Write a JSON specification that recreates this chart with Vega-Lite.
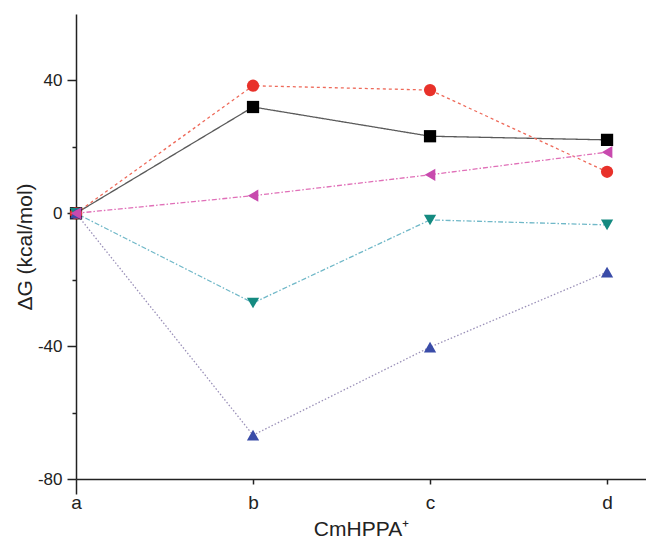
{
  "$schema": "https://vega.github.io/schema/vega-lite/v6.json",
  "autosize": {"type": "none"},
  "width": 570,
  "height": 465,
  "padding": {"left": 76, "top": 14, "right": 0, "bottom": 64},
  "background": "white",
  "config": {
    "view": {"stroke": null},
    "axis": {"labelFont": "Liberation Sans", "titleFont": "Liberation Sans", "titleFontWeight": "normal", "domainColor": "#222", "tickColor": "#222", "labelColor": "#222", "titleColor": "#222", "domainWidth": 1.5, "tickWidth": 1.5, "grid": false}
  },
  "data": {
    "values": [
      {"series": "black", "step": 0, "dG": 0},
      {"series": "black", "step": 1, "dG": 32.0},
      {"series": "black", "step": 2, "dG": 23.2},
      {"series": "black", "step": 3, "dG": 22.1},
      {"series": "red", "step": 0, "dG": 0},
      {"series": "red", "step": 1, "dG": 38.4},
      {"series": "red", "step": 2, "dG": 37.1},
      {"series": "red", "step": 3, "dG": 12.5},
      {"series": "teal", "step": 0, "dG": 0},
      {"series": "teal", "step": 1, "dG": -27.0},
      {"series": "teal", "step": 2, "dG": -2.0},
      {"series": "teal", "step": 3, "dG": -3.5},
      {"series": "blue", "step": 0, "dG": 0},
      {"series": "blue", "step": 1, "dG": -66.8},
      {"series": "blue", "step": 2, "dG": -40.3},
      {"series": "blue", "step": 3, "dG": -17.7},
      {"series": "magenta", "step": 0, "dG": 0},
      {"series": "magenta", "step": 1, "dG": 5.3},
      {"series": "magenta", "step": 2, "dG": 11.6},
      {"series": "magenta", "step": 3, "dG": 18.4}
    ]
  },
  "encoding": {
    "x": {
      "field": "step", "type": "quantitative",
      "scale": {"domain": [0, 3.22], "nice": false, "zero": false},
      "axis": {
        "values": [0, 1, 2, 3],
        "labelExpr": "['a','b','c','d'][datum.value]",
        "title": "CmHPPA⁺",
        "labelFontSize": 19, "titleFontSize": 21,
        "tickSize": {"condition": {"test": "datum.value === 0", "value": 15}, "value": 5},
        "labelPadding": {"condition": {"test": "datum.value === 0", "value": -1}, "value": 9},
        "titlePadding": 6, "labelFlush": false
      }
    },
    "y": {
      "field": "dG", "type": "quantitative",
      "scale": {"domain": [-80, 60], "nice": false},
      "axis": {
        "values": [-80, -60, -40, -20, 0, 20, 40],
        "labelExpr": "datum.value % 40 === 0 ? '' + datum.value : ''",
        "tickSize": {"condition": {"test": "datum.value % 40 === 0", "value": 9}, "value": 4},
        "title": "ΔG (kcal/mol)",
        "labelFontSize": 17, "titleFontSize": 21,
        "labelPadding": 5, "titlePadding": 2
      }
    }
  },
  "layer": [
    {
      "mark": {"type": "line", "strokeWidth": 1.3},
      "encoding": {
        "stroke": {
          "field": "series", "type": "nominal",
          "scale": {"domain": ["black", "red", "magenta", "teal", "blue"], "range": ["#5a5a5a", "#ee6a5a", "#e070b8", "#70b8c8", "#9a90b8"]},
          "legend": null
        },
        "strokeDash": {
          "field": "series", "type": "nominal",
          "scale": {"domain": ["black", "red", "magenta", "teal", "blue"], "range": [[1, 0], [3, 3], [5, 2, 1.5, 2], [5, 2, 1.5, 2], [1.5, 2]]},
          "legend": null
        }
      }
    },
    {
      "mark": {"type": "point", "filled": true, "opacity": 1, "strokeWidth": 0},
      "encoding": {
        "fill": {
          "field": "series", "type": "nominal",
          "scale": {"domain": ["black", "red", "magenta", "teal", "blue"], "range": ["#000000", "#e8312a", "#c84aae", "#148a80", "#3a4ca8"]},
          "legend": null
        },
        "shape": {
          "field": "series", "type": "nominal",
          "scale": {"domain": ["black", "red", "magenta", "teal", "blue"], "range": ["square", "circle", "triangle-left", "triangle-down", "triangle-up"]},
          "legend": null
        },
        "size": {"value": 150}
      }
    }
  ]
}
